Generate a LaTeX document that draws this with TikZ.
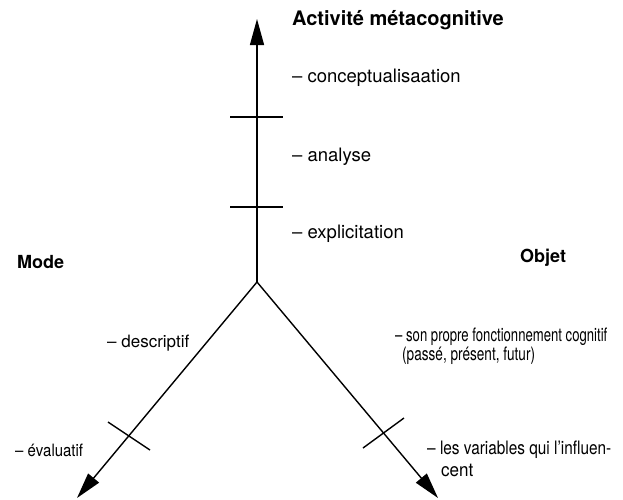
\documentclass[tikz,border=0pt]{standalone}
\usepackage{fontspec}
\setmainfont{TeX Gyre Heros}
\usetikzlibrary{arrows.meta}
\newcommand{\sx}[2]{\scalebox{#1}[1]{#2}}
\begin{document}
\begin{tikzpicture}[x=1pt,y=-1pt,
  axis/.style={line width=1.4pt,-{Triangle[length=26pt,width=14pt]}},
  tick/.style={line width=1.4pt},
  head/.style={font=\fontsize{18}{20}\selectfont\bfseries,inner sep=0pt,anchor=west},
  lab/.style={font=\fontsize{18.5}{20}\selectfont,inner sep=0pt,anchor=west},
  low/.style={font=\fontsize{17}{19}\selectfont,inner sep=0pt,anchor=west},
  lowb/.style={font=\fontsize{18.5}{20}\selectfont,inner sep=0pt,anchor=west}]
\useasboundingbox (0,0) rectangle (623,499);
\coordinate (c) at (257,282);
\coordinate (top) at (257,19);
\coordinate (bl) at (77,498);
\coordinate (br) at (438,498);
\draw[axis] (c) -- (top);
\draw[axis] (c) -- (bl);
\draw[axis] (c) -- (br);
\coordinate (t1a) at (230,117); \coordinate (t1b) at (283,117);
\coordinate (t2a) at (230,207); \coordinate (t2b) at (283,207);
\coordinate (t3a) at (108,422); \coordinate (t3b) at (150,450);
\coordinate (t4a) at (363,448); \coordinate (t4b) at (404,418);
\draw[tick] (t1a) -- (t1b);
\draw[tick] (t2a) -- (t2b);
\draw[tick] (t3a) -- (t3b);
\draw[tick] (t4a) -- (t4b);
\node[head,font=\fontsize{20}{22}\selectfont\bfseries] (act) at (292,20) {Activité métacognitive};
\node[lab] (conc) at (292,78) {– conceptualisaation};
\node[lab] (ana) at (292,157) {– analyse};
\node[lab] (expl) at (292,234) {– explicitation};
\node[head] (mode) at (17,262) {Mode};
\node[head] (obj) at (520,258) {Objet};
\node[low] (desc) at (107,343) {\sx{1.0}{– descriptif}};
\node[low] (eval) at (15,450) {\sx{0.88}{– évaluatif}};
\node[lowb] (son) at (395,337) {\sx{0.71}{– son propre fonctionnement cognitif}};
\node[lowb] (pas) at (402,356) {\sx{0.735}{(passé, présent, futur)}};
\node[lowb] (var) at (427,450) {\sx{0.83}{– les variables qui l'influen-}};
\node[lowb] (cent) at (441,470) {\sx{0.92}{cent}};
\end{tikzpicture}
\end{document}
